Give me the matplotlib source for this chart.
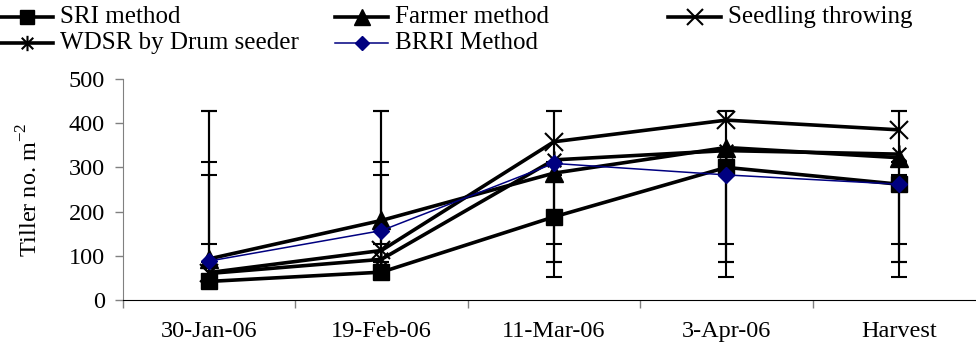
import numpy as np
import matplotlib.pyplot as plt
from matplotlib.path import Path
from matplotlib.lines import Line2D

plt.rcParams['font.family'] = ['Liberation Serif', 'DejaVu Serif']
plt.rcParams['mathtext.fontset'] = 'custom'
plt.rcParams['mathtext.rm'] = 'Liberation Serif'

cats = ['30-Jan-06', '19-Feb-06', '11-Mar-06', '3-Apr-06', 'Harvest']
sri = [42, 63, 188, 300, 262]
farmer = [93, 180, 287, 345, 322]
seedling = [62, 112, 358, 407, 385]
wdsr = [60, 92, 317, 338, 330]
brri = [88, 157, 309, 283, 262]

# error bars (same range drawn at every date, Excel style)
err_lo = [53, 126, 87, 87]
err_hi = [283, 313, 428, 428]

W, H = 976, 350
fig = plt.figure(figsize=(W / 100, H / 100), dpi=100)
ax = fig.add_axes([122.7 / W, 1 - 300 / H, (985 - 122.7) / W, 221 / H])

star = Path([(0, -1), (0, 1), (-0.75, -0.75), (0.75, 0.75), (-0.75, 0.75), (0.75, -0.75)],
            [Path.MOVETO, Path.LINETO, Path.MOVETO, Path.LINETO, Path.MOVETO, Path.LINETO])

x = np.arange(len(cats))
for lo, hi in zip(err_lo, err_hi):
    c = (lo + hi) / 2
    ax.errorbar(x, [c] * len(x), yerr=(hi - lo) / 2, fmt='none', ecolor='black',
                elinewidth=1.5, capsize=5.5, capthick=1.5, zorder=2)

styles = [
    ('SRI method', sri, dict(color='black', lw=2.6, marker='s', ms=12)),
    ('Farmer method', farmer, dict(color='black', lw=2.6, marker='^', ms=13)),
    ('Seedling throwing', seedling, dict(color='black', lw=2.6, marker='x', ms=13, mew=1.5)),
    ('WDSR by Drum seeder', wdsr, dict(color='black', lw=2.6, marker=star, ms=13, mew=1.5)),
    ('BRRI Method', brri, dict(color='#000080', lw=1.1, marker='D', ms=8)),
]
for name, vals, st in styles:
    ax.plot(x, vals, zorder=3, **st)

ax.set_xlim(-0.5, len(cats) - 0.5)
ax.set_ylim(0, 500)
ax.set_yticks(range(0, 501, 100))
ax.set_xticks(np.arange(-0.5, len(cats), 1.0))
ax.set_xticklabels([])
ax.set_xticks(x, minor=True)
ax.set_xticklabels(cats, minor=True)
ax.tick_params(axis='x', which='major', direction='out', length=6, width=1, color='#808080')
ax.tick_params(axis='x', which='minor', length=0, pad=15, labelsize=17.5)
ax.tick_params(axis='y', direction='out', length=6, width=1, color='#808080', pad=7, labelsize=17.5)
for s in ['top', 'right']:
    ax.spines[s].set_visible(False)
ax.spines['left'].set_color('#808080')
ax.spines['bottom'].set_color('black')
ax.set_ylabel(r'Tiller no. m$^{\mathrm{-2}}$', fontsize=17.5, labelpad=19)

# legend laid out like the Excel one: three equal columns, two rows
leg_pos = [(0, 17), (335, 17), (668, 17), (0, 43), (335, 43)]
for (name, vals, st), (lx, ly) in zip(styles, leg_pos):
    yf = 1 - ly / H
    fig.add_artist(Line2D([lx / W, (lx + 53) / W], [yf, yf], color=st['color'], lw=st['lw']))
    mst = {k: v for k, v in st.items() if k not in ('lw',)}
    mst['ms'] = st['ms'] * 0.85
    fig.add_artist(Line2D([(lx + 26.5) / W], [yf], ls='none', **mst))
    fig.text((lx + 60) / W, yf, name, fontsize=18, va='center', ha='left')

fig.savefig('out.png', dpi=100)
